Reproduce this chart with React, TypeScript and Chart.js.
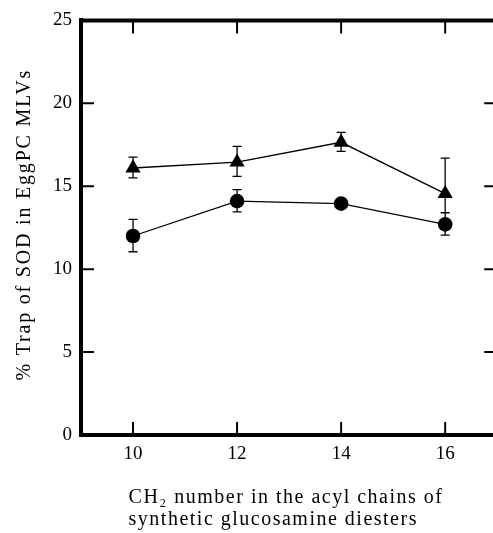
import React, { useEffect, useRef } from "react";
import { Chart, registerables } from "chart.js";

Chart.register(...registerables);

const chainLengths = [10, 12, 14, 16];
const circleValues = [12.0, 14.1, 13.95, 12.7];
const circleHigh = [13.0, 14.8, 14.1, 13.4];
const circleLow = [11.05, 13.45, 13.8, 12.05];
const triangleValues = [16.1, 16.45, 17.65, 14.55];
const triangleHigh = [16.75, 17.4, 18.25, 16.7];
const triangleLow = [15.5, 15.6, 17.1, 12.4];
const xTicks = [10, 12, 14, 16];
const yTicks = [0, 5, 10, 15, 20, 25];
const xTitleLines = ["CH\u2082 number in the acyl chains of", "synthetic glucosamine diesters"];
const yTitle = "% Trap of SOD in EggPC MLVs";

const FONT = "'Liberation Serif', 'DejaVu Serif', serif";

const framePlugin = {
  id: "frame",
  beforeDatasetsDraw(chart: any) {
    const { ctx, chartArea, scales } = chart;
    const xs = scales.x;
    const ys = scales.y;
    ctx.save();
    ctx.strokeStyle = "#000";
    ctx.lineWidth = 4;
    ctx.beginPath();
    ctx.moveTo(chartArea.left - 2, chartArea.top);
    ctx.lineTo(chartArea.right + 2, chartArea.top);
    ctx.moveTo(chartArea.right, chartArea.top);
    ctx.lineTo(chartArea.right, chartArea.bottom);
    ctx.stroke();
    ctx.lineWidth = 2;
    ctx.beginPath();
    xTicks.forEach((v) => {
      const px = xs.getPixelForValue(v);
      ctx.moveTo(px, chartArea.top);
      ctx.lineTo(px, chartArea.top + 13);
      ctx.moveTo(px, chartArea.bottom);
      ctx.lineTo(px, chartArea.bottom - 13);
    });
    yTicks.slice(1, -1).forEach((v) => {
      const py = ys.getPixelForValue(v);
      ctx.moveTo(chartArea.left, py);
      ctx.lineTo(chartArea.left + 13, py);
      ctx.moveTo(chartArea.right, py);
      ctx.lineTo(chartArea.right - 13, py);
    });
    ctx.stroke();
    const series = [
      { hi: circleHigh, lo: circleLow },
      { hi: triangleHigh, lo: triangleLow },
    ];
    ctx.lineWidth = 1.3;
    ctx.beginPath();
    series.forEach((s) => {
      chainLengths.forEach((x, i) => {
        const px = xs.getPixelForValue(x);
        const ph = ys.getPixelForValue(s.hi[i]);
        const pl = ys.getPixelForValue(s.lo[i]);
        ctx.moveTo(px, ph);
        ctx.lineTo(px, pl);
        ctx.moveTo(px - 4.5, ph);
        ctx.lineTo(px + 4.5, ph);
        ctx.moveTo(px - 4.5, pl);
        ctx.lineTo(px + 4.5, pl);
      });
    });
    ctx.stroke();
    ctx.restore();
  },
  afterDraw(chart: any) {
    const { ctx, chartArea } = chart;
    ctx.save();
    ctx.fillStyle = "#000";
    ctx.font = `20px ${FONT}`;
    ctx.textBaseline = "alphabetic";
    (ctx as any).letterSpacing = "1.5px";
    ctx.textAlign = "left";
    const w1 = ctx.measureText(xTitleLines[0]).width;
    const left = (chartArea.left + 493) / 2 - w1 / 2 - 1;
    ctx.fillText(xTitleLines[0], left, chartArea.bottom + 68);
    ctx.fillText(xTitleLines[1], left, chartArea.bottom + 90);
    (ctx as any).letterSpacing = "1.8px";
    ctx.textAlign = "center";
    ctx.translate(30, (chartArea.top + chartArea.bottom) / 2 - 3);
    ctx.rotate(-Math.PI / 2);
    ctx.fillText(yTitle, 0, 0);
    ctx.restore();
  },
};

export default function App() {
  const ref = useRef<HTMLCanvasElement>(null);
  useEffect(() => {
    const canvas = ref.current!;
    const chart = new Chart(canvas, {
      type: "line",
      data: {
        datasets: [
          {
            label: "circle",
            data: chainLengths.map((x, i) => ({ x, y: circleValues[i] })),
            borderColor: "#000",
            backgroundColor: "#000",
            borderWidth: 1.3,
            pointStyle: "circle",
            pointRadius: 7.3,
            pointBorderWidth: 0,
          },
          {
            label: "triangle",
            data: chainLengths.map((x, i) => ({ x, y: triangleValues[i] })),
            borderColor: "#000",
            backgroundColor: "#000",
            borderWidth: 1.3,
            pointStyle: "triangle",
            pointRadius: 8.8,
            pointBorderWidth: 0,
          },
        ],
      },
      options: {
        animation: false,
        responsive: false,
        layout: { padding: { top: 20, right: 4, left: 0, bottom: 0 } },
        plugins: { legend: { display: false }, tooltip: { enabled: false } },
        scales: {
          x: {
            type: "linear",
            min: 9,
            max: 17,
            afterBuildTicks: (s: any) => {
              s.ticks = xTicks.map((v) => ({ value: v }));
            },
            afterFit: (s: any) => {
              s.height = 98;
            },
            grid: { display: false, drawTicks: false },
            border: { display: true, color: "#000", width: 4 },
            ticks: { color: "#000", padding: 8, font: { family: FONT, size: 19 } },
            title: { display: false },
          },
          y: {
            min: 0,
            max: 25,
            afterBuildTicks: (s: any) => {
              s.ticks = yTicks.map((v) => ({ value: v }));
            },
            afterFit: (s: any) => {
              s.width = 81;
            },
            grid: { display: false, drawTicks: false },
            border: { display: true, color: "#000", width: 4 },
            ticks: { color: "#000", padding: 9, font: { family: FONT, size: 19 } },
            title: { display: false },
          },
        },
      },
      plugins: [framePlugin],
    });
    return () => chart.destroy();
  }, []);
  return (
    <div
      style={{
        position: "absolute",
        left: 0,
        top: 0,
        width: 493,
        height: 533,
        overflow: "hidden",
        background: "#fff",
      }}
    >
      <canvas ref={ref} width={506} height={533} style={{ display: "block" }} />
    </div>
  );
}
